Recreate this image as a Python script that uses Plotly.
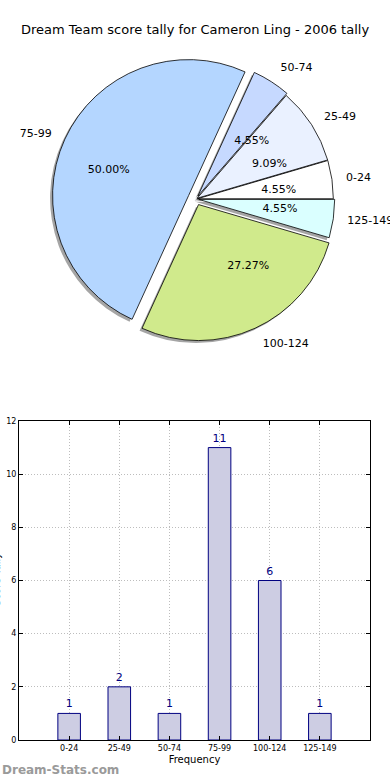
import plotly.graph_objects as go

categories = ["0-24", "25-49", "50-74", "75-99", "100-124", "125-149"]
counts = [1, 2, 1, 11, 6, 1]
slice_colors = ["#FFFFFF", "#EAF1FF", "#C6D9FF", "#B4D6FF", "#D0EA8C", "#DAFFFF"]
pulls = [0.01, 0.01, 0.025, 0.06, 0.045, 0.02]
y_ticks = [0, 2, 4, 6, 8, 10, 12]

W, H = 390, 780
FONT = "DejaVu Sans"
total = sum(counts)
rotation = 90 - 360 * counts[0] / total

def px_x(v):
    return v / W

def px_y(v):
    return 1 - v / H

CX, CY, R = 196, 199, 136

def pie_domain(r, slice_pulls, dx=0.0, dy=0.0):
    half = r * (1 + max(slice_pulls))
    return (dict(x=[px_x(CX + dx - half), px_x(CX + dx + half)],
                 y=[px_y(CY + dy + half), px_y(CY + dy - half)]))

def scaled(r):
    return [p * R / r for p in pulls]

fig = go.Figure()

common_pie = dict(labels=categories, values=counts, sort=False,
                  direction="counterclockwise", rotation=rotation,
                  showlegend=False)

# shadow
fig.add_trace(go.Pie(
    **common_pie, pull=pulls, domain=pie_domain(R, pulls, -2.5, 2.5),
    marker=dict(colors=["#808080"] * len(categories), line=dict(width=0)),
    opacity=0.7, textinfo="none", hoverinfo="skip",
))

# main slices
fig.add_trace(go.Pie(
    **common_pie, pull=pulls, domain=pie_domain(R, pulls),
    marker=dict(colors=slice_colors, line=dict(color="black", width=0.8)),
    textinfo="none",
))

# category labels (invisible larger pie, labels outside at ~1.1r)
R_LAB = R * 1.08
fig.add_trace(go.Pie(
    **common_pie, pull=scaled(R_LAB), domain=pie_domain(R_LAB, scaled(R_LAB)),
    marker=dict(colors=["rgba(0,0,0,0)"] * len(categories), line=dict(width=0)),
    textinfo="label", textposition="outside",
    textfont=dict(family=FONT, size=11, color="black"),
    hoverinfo="skip",
))

# percentage labels (invisible smaller pie, text outside at ~0.6r)
R_PCT = R * 0.45
fig.add_trace(go.Pie(
    **common_pie, pull=scaled(R_PCT), domain=pie_domain(R_PCT, scaled(R_PCT)),
    marker=dict(colors=["rgba(0,0,0,0)"] * len(categories), line=dict(width=0)),
    texttemplate="%{percent:.2%}", textposition="outside",
    textfont=dict(family=FONT, size=11, color="black"),
    hoverinfo="skip",
))

fig.add_trace(go.Bar(
    x=list(range(len(categories))), y=counts, width=0.45,
    marker=dict(color="#CDCDE3", line=dict(color="#000080", width=1)),
    text=[str(c) for c in counts], textposition="outside",
    textfont=dict(family=FONT, size=11, color="#000080"),
    cliponaxis=False, showlegend=False,
    xaxis="x", yaxis="y",
))

axis_common = dict(
    showline=True, linecolor="black", linewidth=1, mirror="allticks",
    ticks="inside", ticklen=4, tickcolor="black",
    showgrid=True, gridcolor="#BDBDBD", griddash="1px,2px", gridwidth=1,
    zeroline=False, automargin=False,
    tickfont=dict(family=FONT, size=8, color="black"),
)

fig.update_layout(
    width=W, height=H,
    margin=dict(l=0, r=0, t=0, b=0, pad=0, autoexpand=False),
    paper_bgcolor="white", plot_bgcolor="white",
    font=dict(family=FONT, color="black"),
    xaxis=dict(
        domain=[px_x(19), px_x(370)], range=[-1, 6],
        tickmode="array", tickvals=list(range(len(categories))), ticktext=categories,
        title=dict(text="Frequency", font=dict(family=FONT, size=10), standoff=4),
        anchor="y", **axis_common,
    ),
    yaxis=dict(
        domain=[px_y(740), px_y(421)], range=[0, 12],
        tickmode="array", tickvals=y_ticks,
        anchor="x", **axis_common,
    ),
    annotations=[
        dict(text="Dream Team score tally for Cameron Ling - 2006 tally",
             x=px_x(195), y=px_y(30), xref="paper", yref="paper", showarrow=False,
             font=dict(family=FONT, size=13, color="black"), xanchor="center", yanchor="middle"),
        dict(text="Score Tally", textangle=-90,
             x=px_x(-4), y=px_y(580), xref="paper", yref="paper", showarrow=False,
             font=dict(family=FONT, size=10, color="black"), xanchor="center", yanchor="middle"),
        dict(text="<b>Dream-Stats.com</b>",
             x=0, y=px_y(770), xref="paper", yref="paper", showarrow=False,
             font=dict(family=FONT, size=12, color="#9A9A9A"), xanchor="left", yanchor="middle"),
    ],
)

fig.write_html("out.html", config={"displayModeBar": False},
               post_script="document.body.style.margin='0';")
